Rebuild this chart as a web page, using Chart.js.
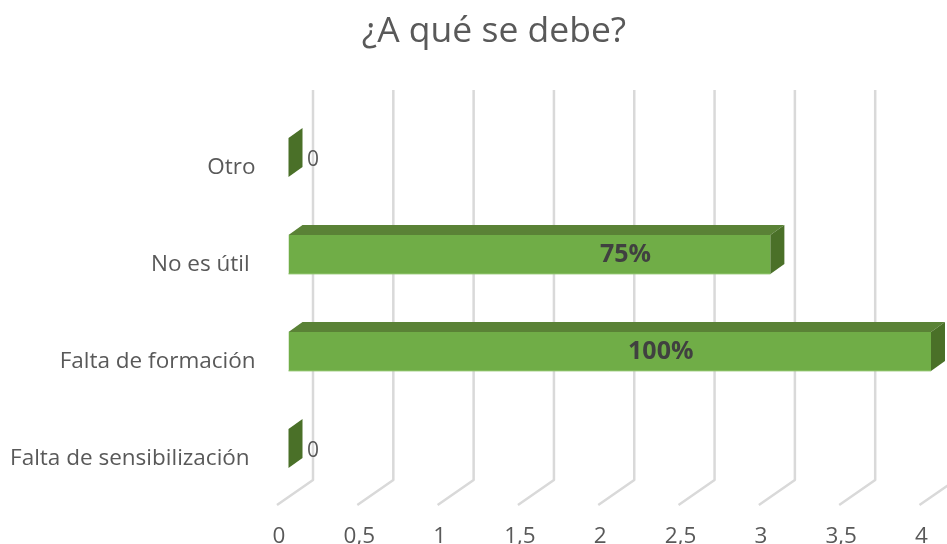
<!DOCTYPE html>
<html><head><meta charset="utf-8">
<style>html,body{margin:0;padding:0;background:#fff}#w{width:947px;height:544px;position:relative}</style>
<script src="https://cdn.jsdelivr.net/npm/chart.js@4"></script></head>
<body><div id="w"><canvas id="c" width="947" height="544"></canvas></div>
<script>
const titleText = "¿A qué se debe?";
const categories = ["Otro", "No es útil ", "Falta de formación", "Falta de sensibilización "];
const values = [0, 3, 4, 0];
const valueLabels = ["0", "75%", "100%", "0"];
const tickLabels = ["0", "0,5", "1", "1,5", "2", "2,5", "3", "3,5", "4"];

const FONT = '"Open Sans", sans-serif';
const TEXT = '#595959';

const depthPlugin = {
  id: 'depth',
  afterLayout(chart) { chart.scales.y.left = 0; },
  beforeDatasetsDraw(chart) {
    const {ctx, chartArea, scales: {x}} = chart;
    ctx.save();
    ctx.strokeStyle = '#d9d9d9';
    ctx.lineWidth = 2.5;
    ctx.lineJoin = 'round';
    x.ticks.forEach(t => {
      const p = x.getPixelForValue(t.value);
      ctx.beginPath();
      ctx.moveTo(p + 24.5, chartArea.top - 19);
      ctx.lineTo(p + 24.5, chartArea.bottom - 17);
      ctx.lineTo(p - 11.5, chartArea.bottom + 8);
      ctx.stroke();
    });
    ctx.restore();
  },
  afterDatasetsDraw(chart) {
    const {ctx} = chart;
    const meta = chart.getDatasetMeta(0);
    const dx = 14, dy = -10;
    const labelShift = [24.5, 96, 51, 24.5];
    ctx.save();
    meta.data.forEach((bar, i) => {
      const h = bar.height / 2;
      const x0 = bar.base, x1 = bar.x, top = bar.y - h, bot = bar.y + h;
      if (x1 - x0 > 0.5) {
        ctx.fillStyle = '#5A8236';
        ctx.beginPath();
        ctx.moveTo(x0, top);
        ctx.lineTo(x0 + dx, top + dy);
        ctx.lineTo(x1 + dx, top + dy);
        ctx.lineTo(x1, top);
        ctx.closePath();
        ctx.fill();
        ctx.strokeStyle = '#8FC46C';
        ctx.lineWidth = 1;
        ctx.beginPath();
        ctx.moveTo(x0, bot);
        ctx.lineTo(x1, bot);
        ctx.stroke();
      }
      ctx.fillStyle = '#4A7028';
      ctx.beginPath();
      ctx.moveTo(x1, top);
      ctx.lineTo(x1 + dx, top + dy);
      ctx.lineTo(x1 + dx, bot + dy);
      ctx.lineTo(x1, bot);
      ctx.closePath();
      ctx.fill();

      ctx.textBaseline = 'middle';
      ctx.textAlign = 'center';
      const cx = (x0 + x1) / 2 + labelShift[i];
      if (values[i] > 0) {
        ctx.font = 'bold 25px ' + FONT;
        ctx.fillStyle = '#404040';
        ctx.fillText(valueLabels[i], cx, bar.y);
      } else {
        ctx.font = '21px ' + FONT;
        ctx.fillStyle = TEXT;
        ctx.fillText(valueLabels[i], cx, bar.y + 3);
      }
    });
    ctx.restore();
  }
};

new Chart(document.getElementById('c'), {
  type: 'bar',
  data: {
    labels: categories,
    datasets: [{
      data: values,
      backgroundColor: '#70AD47',
      borderWidth: 0,
      barPercentage: 0.4,
      categoryPercentage: 1
    }]
  },
  plugins: [depthPlugin],
  options: {
    indexAxis: 'y',
    responsive: false,
    animation: false,
    layout: {padding: {left: 57, right: 16, top: 0, bottom: 0}},
    plugins: {
      legend: {display: false},
      tooltip: {enabled: false},
      title: {
        display: true,
        text: titleText,
        color: TEXT,
        font: {family: FONT, size: 35.5, weight: 'normal'},
        padding: {top: 11, bottom: 55.4}
      }
    },
    scales: {
      x: {
        min: 0, max: 4,
        grid: {display: false, drawTicks: false},
        border: {display: false},
        afterFit(s) { s.height = 47; s.paddingLeft = 0; s.paddingRight = 0; },
        ticks: {
          stepSize: 0.5,
          autoSkip: false,
          maxRotation: 0,
          padding: 26,
          labelOffset: -9.5,
          color: TEXT,
          font: {family: FONT, size: 22.5},
          callback: (v, i) => tickLabels[i]
        }
      },
      y: {
        grid: {display: false, drawTicks: false},
        border: {display: false},
        afterFit(s) { s.width = 231.5; s.paddingTop = 0; s.paddingBottom = 0; },
        ticks: {
          autoSkip: false,
          padding: 33,
          labelOffset: 10.5,
          color: TEXT,
          font: {family: FONT, size: 22.5}
        }
      }
    }
  }
});
</script></body></html>
